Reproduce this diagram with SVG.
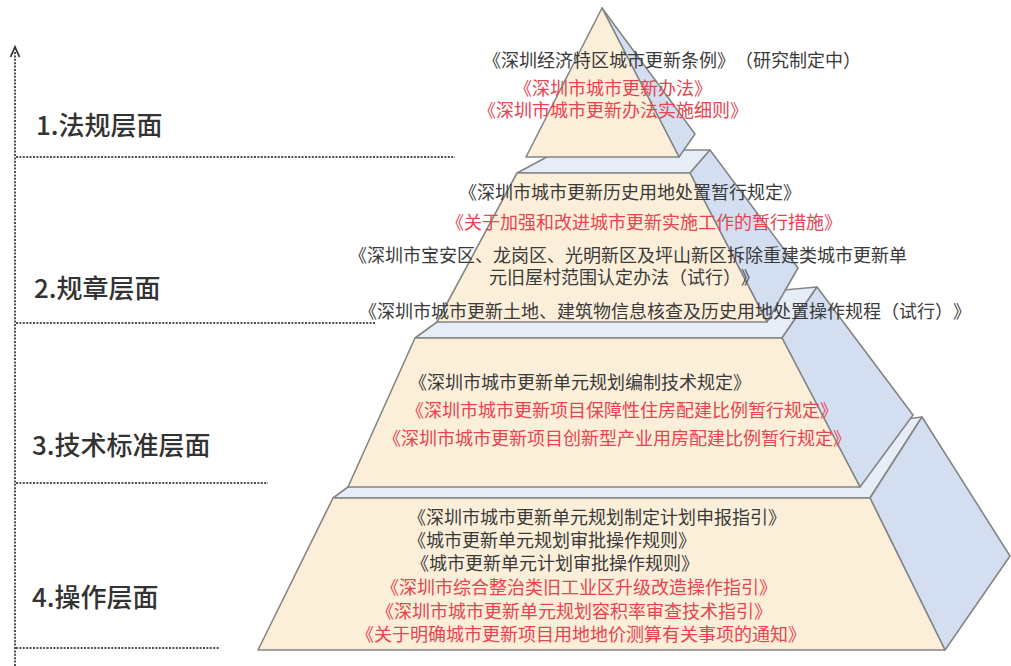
<svg xmlns="http://www.w3.org/2000/svg" width="1011" height="666" viewBox="0 0 1011 666">
<style>
.front{fill:#fcefd9;stroke:#858585;stroke-width:1.6;stroke-linejoin:round}
.side{fill:#d3dff1;stroke:#858585;stroke-width:1.6;stroke-linejoin:round}
.top{fill:#e6edf7;stroke:#858585;stroke-width:1.6;stroke-linejoin:round}
text{text-spacing-trim:space-all;font-kerning:none}
.t{font-family:"Noto Sans CJK SC","Noto Sans CJK TC",sans-serif;font-size:18px;fill:#3a3a3a}
.r{fill:#e8434e}
.lbl{font-family:"Noto Sans CJK SC","Noto Sans CJK TC",sans-serif;font-size:26px;font-weight:500;fill:#333333}
.dot{stroke:#505050;stroke-width:2;stroke-dasharray:2 1.4;fill:none}
</style>
<rect width="1011" height="666" fill="#ffffff"/>
<g id="connectors">
<line class="dot" x1="15" y1="52" x2="15" y2="666"/>
<path d="M10.5,57 L15,47 L19.5,57" fill="none" stroke="#333333" stroke-width="1.8"/>
<line class="dot" x1="16" y1="157" x2="455" y2="157"/>
<line class="dot" x1="16" y1="323" x2="375" y2="323"/>
<line class="dot" x1="16" y1="483" x2="268" y2="483"/>
<line class="dot" x1="16" y1="648" x2="220" y2="648"/>
</g>
<g id="labels">
<text class="lbl" x="36" y="135">1.法规层面</text>
<text class="lbl" x="34" y="298">2.规章层面</text>
<text class="lbl" x="32" y="455">3.技术标准层面</text>
<text class="lbl" x="32" y="607">4.操作层面</text>
</g>
<g id="tier4">
<polygon class="top" points="333,498 348,487 922,417 870,498"/>
<polygon class="side" points="870,498 922,417 1010,556 945,650"/>
<polygon class="front" points="333,498 870,498 945,650 258,650"/>
<text class="t" x="408" y="524">《深圳市城市更新单元规划制定计划申报指引》</text>
<text class="t" x="408" y="547">《城市更新单元规划审批操作规则》</text>
<text class="t" x="411" y="570">《城市更新单元计划审批操作规则》</text>
<text class="t r" x="381" y="594">《深圳市综合整治类旧工业区升级改造操作指引》</text>
<text class="t r" x="376" y="618">《深圳市城市更新单元规划容积率审查技术指引》</text>
<text class="t r" x="356" y="641">《关于明确城市更新项目用地地价测算有关事项的通知》</text>
</g>
<g id="tier3">
<polygon class="top" points="415,338 437,322 817,287 782,338"/>
<polygon class="side" points="782,338 817,287 913,415 860,487"/>
<polygon class="front" points="415,338 782,338 860,487 348,487"/>
<text class="t" x="409" y="389">《深圳市城市更新单元规划编制技术规定》</text>
<text class="t r" x="406" y="417">《深圳市城市更新项目保障性住房配建比例暂行规定》</text>
<text class="t r" x="383" y="445">《深圳市城市更新项目创新型产业用房配建比例暂行规定》</text>
</g>
<g id="tier2">
<polygon class="top" points="517,173 560,150 710,150 690,173"/>
<polygon class="side" points="690,173 710,150 798,268 767,322"/>
<polygon class="front" points="517,173 690,173 767,322 437,322"/>
<text class="t" x="459" y="199">《深圳市城市更新历史用地处置暂行规定》</text>
<text class="t r" x="446" y="229">《关于加强和改进城市更新实施工作的暂行措施》</text>
<text class="t" x="349" y="262">《深圳市宝安区、龙岗区、光明新区及坪山新区拆除重建类城市更新单</text>
<text class="t" x="489" y="284">元旧屋村范围认定办法（试行）》</text>
<text class="t" x="359" y="318">《深圳市城市更新土地、建筑物信息核查及历史用地处置操作规程（试行）》</text>
</g>
<g id="tier1">
<polygon class="side" points="602,8 695,134 679,157"/>
<polygon class="front" points="602,8 679,157 526,157"/>
<text class="t" x="483" y="67">《深圳经济特区城市更新条例》（研究制定中）</text>
<text class="t r" x="514" y="95">《深圳市城市更新办法》</text>
<text class="t r" x="478" y="117">《深圳市城市更新办法实施细则》</text>
</g>
</svg>
